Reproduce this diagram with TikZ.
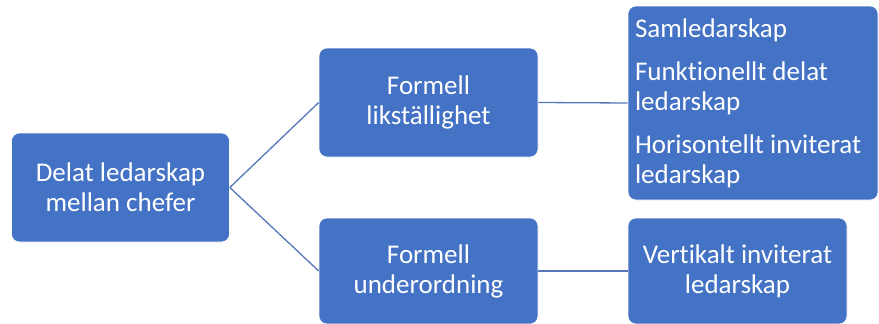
\documentclass[tikz,border=0pt]{standalone}
\usepackage{fontspec}
\setmainfont[Ligatures={NoCommon}]{Carlito}
\definecolor{boxblue}{HTML}{4472C4}
\definecolor{lineblue}{HTML}{5577B8}
\begin{document}
\begin{tikzpicture}[x=1pt,y=-1pt,
  box/.style={rectangle, rounded corners=8pt, fill=boxblue, draw=white, line width=0.6pt,
    text=white, font=\fontsize{27}{30}\selectfont, align=center, inner sep=0pt},
  conn/.style={draw=lineblue, line width=1.3pt}]
\useasboundingbox (0,0) rectangle (879,324);
\node[box, minimum width=218pt, minimum height=109pt] (A) at (120.5,187.5) {Delat ledarskap\\mellan chefer};
\node[box, minimum width=219pt, minimum height=109pt] (B) at (428.5,102.5) {Formell\\likställighet};
\node[box, minimum width=219pt, minimum height=106pt] (C) at (428.5,271) {Formell\\underordning};
\node[box, minimum width=250pt, minimum height=194pt, align=flush left, text width=236pt, inner xsep=7pt] (D) at (753,103)
  {Samledarskap\\[13pt]Funktionellt delat\\ledarskap\\[13pt]Horisontellt inviterat\\ledarskap};
\node[box, minimum width=219pt, minimum height=106pt] (E) at (737.5,271) {Vertikalt inviterat\\ledarskap};
\draw[conn] (A.east) -- (B.west);
\draw[conn] (A.east) -- (C.west);
\draw[conn] (B.east) -- (D.west);
\draw[conn] (C.east) -- (E.west);
\end{tikzpicture}
\end{document}
